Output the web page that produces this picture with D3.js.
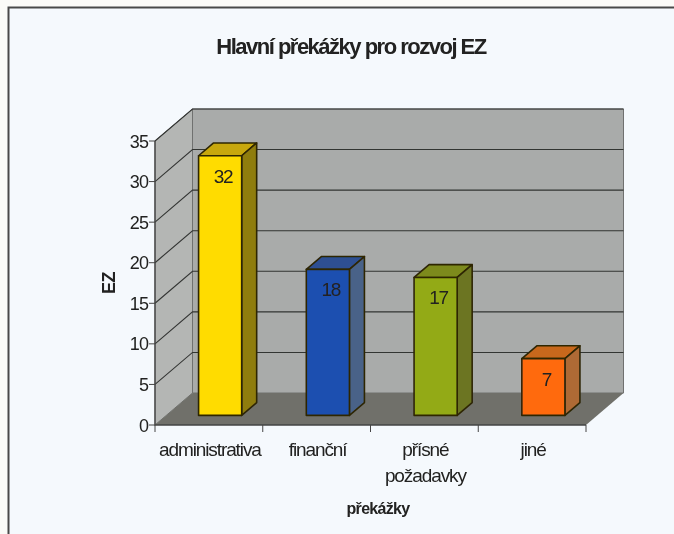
<!DOCTYPE html>
<html><head><meta charset="utf-8">
<script src="https://cdn.jsdelivr.net/npm/d3@7"></script>
<style>html,body{margin:0;padding:0;background:#fbfbf8;overflow:hidden}svg{display:block}text{font-family:"Liberation Sans",Arial,sans-serif;fill:#222220}</style>
</head><body><svg id="c" width="674" height="534"></svg>
<script>
const categories = ["administrativa","finanční","přísné požadavky","jiné"];
const values = [32,18,17,7];
const frontColors = ["#ffdc00","#1f4fb0","#93aa12","#ff6a10"];
const topColors = ["#c8a80a","#2d4f92","#7d8a1a","#c8681c"];
const sideColors = ["#8f7d10","#4a6288","#6c7423","#ae6a34"];
const yTicks = [0,5,10,15,20,25,30,35];
const title = "Hlavní překážky pro rozvoj EZ";
const xTitle = "překážky";
const yTitle = "EZ";

const svg = d3.select("#c");
const blur = svg.append("defs").append("filter").attr("id","soft").attr("x",0).attr("y",0).attr("width","100%").attr("height","100%");
blur.append("feGaussianBlur").attr("stdDeviation",0.45);
const root = svg.append("g").attr("filter","url(#soft)");
root.append("rect").attr("x",0).attr("y",0).attr("width",674).attr("height",534).attr("fill","#fbfbf8");
root.append("rect").attr("x",8.5).attr("y",7.5).attr("width",680).attr("height",540)
  .attr("fill","#f5f9fd").attr("stroke","#4a4a4a").attr("stroke-width",2);

const x = d3.scaleBand().domain(categories).range([155,586]).paddingInner(0.6).paddingOuter(0.3);
const y = d3.scaleLinear().domain([0,35]).range([425,141]);
const depth = d3.scaleLinear().domain([0,1]).range([0,37.5]);
const rise = d3.scaleLinear().domain([0,1]).range([0,-32]);
const P = (px,v,z)=>[px+depth(z), y(v)+rise(z)];
const poly = pts => "M"+pts.map(p=>p.join(",")).join("L")+"Z";
const L = x.range()[0], R = x.range()[1], yMax = y.domain()[1];

const g = root.append("g");
// walls
g.append("path").attr("d",poly([P(L,0,1),P(R,0,1),P(R,yMax,1),P(L,yMax,1)])).attr("fill","#a9abaa").attr("stroke","#6f716f");
g.append("path").attr("d",poly([P(L,0,0),P(L,0,1),P(L,yMax,1),P(L,yMax,0)])).attr("fill","#b4b6b4").attr("stroke","#6f716f");
g.append("path").attr("d",poly([P(L,0,0),P(R,0,0),P(R,0,1),P(L,0,1)])).attr("fill","#6f706a");
// gridlines
yTicks.filter(t=>t>0).forEach(t=>{
  g.append("path").attr("d",d3.line()([P(L,t,0),P(L,t,1),P(R,t,1)])).attr("fill","none").attr("stroke","#333533").attr("stroke-width",1.1);
});
// axis
g.append("path").attr("d",d3.line()([[L,y(yMax)],[L,y(0)],[R,y(0)]])).attr("fill","none").attr("stroke","#444").attr("stroke-width",1.3);
yTicks.forEach(t=>{
  g.append("line").attr("x1",L-6).attr("x2",L).attr("y1",y(t)).attr("y2",y(t)).attr("stroke","#444");
  g.append("text").attr("x",L-7).attr("y",y(t)+6.5).attr("text-anchor","end").attr("font-size",18).attr("letter-spacing",-0.9).text(t);
});
const step = x.step();
d3.range(categories.length+1).forEach(i=>{
  const px = L+i*step;
  g.append("line").attr("x1",px).attr("x2",px).attr("y1",y(0)).attr("y2",y(0)+7).attr("stroke","#444");
});
// bars
const z0=0.3,z1=0.7;
categories.forEach((c,i)=>{
  const a=x(c),b=a+x.bandwidth(),v=values[i];
  const bar=g.append("g").attr("stroke","#2e2606").attr("stroke-width",1.6).attr("stroke-linejoin","round");
  bar.append("path").attr("d",poly([P(a,v,z0),P(b,v,z0),P(b,v,z1),P(a,v,z1)])).attr("fill",topColors[i]);
  bar.append("path").attr("d",poly([P(b,0,z0),P(b,0,z1),P(b,v,z1),P(b,v,z0)])).attr("fill",sideColors[i]);
  bar.append("path").attr("d",poly([P(a,0,z0),P(b,0,z0),P(b,v,z0),P(a,v,z0)])).attr("fill",frontColors[i]);
  const [tx,ty]=P(a+x.bandwidth()/2+3,v,z0);
  g.append("text").attr("x",tx).attr("y",ty+27).attr("text-anchor","middle").attr("font-size",19).attr("letter-spacing",-1.3).text(v);
});
// category labels
const labelY=456;
categories.forEach((c,i)=>{
  const cx=L+(i+0.5)*step+1;
  c.split(" ").forEach((t,k)=>g.append("text").attr("x",cx).attr("y",labelY+k*26).attr("text-anchor","middle").attr("font-size",19).attr("letter-spacing",-1.1).text(t));
});
root.append("text").attr("x",351).attr("y",54).attr("text-anchor","middle").attr("font-size",22).attr("font-weight","bold").attr("letter-spacing",-1.5).text(title);
root.append("text").attr("x",378).attr("y",514).attr("text-anchor","middle").attr("font-size",16).attr("font-weight","bold").attr("letter-spacing",-0.7).text(xTitle);
root.append("text").attr("transform","translate(115,283) rotate(-90)").attr("text-anchor","middle").attr("font-size",18).attr("font-weight","bold").attr("letter-spacing",-0.5).text(yTitle);
</script></body></html>
